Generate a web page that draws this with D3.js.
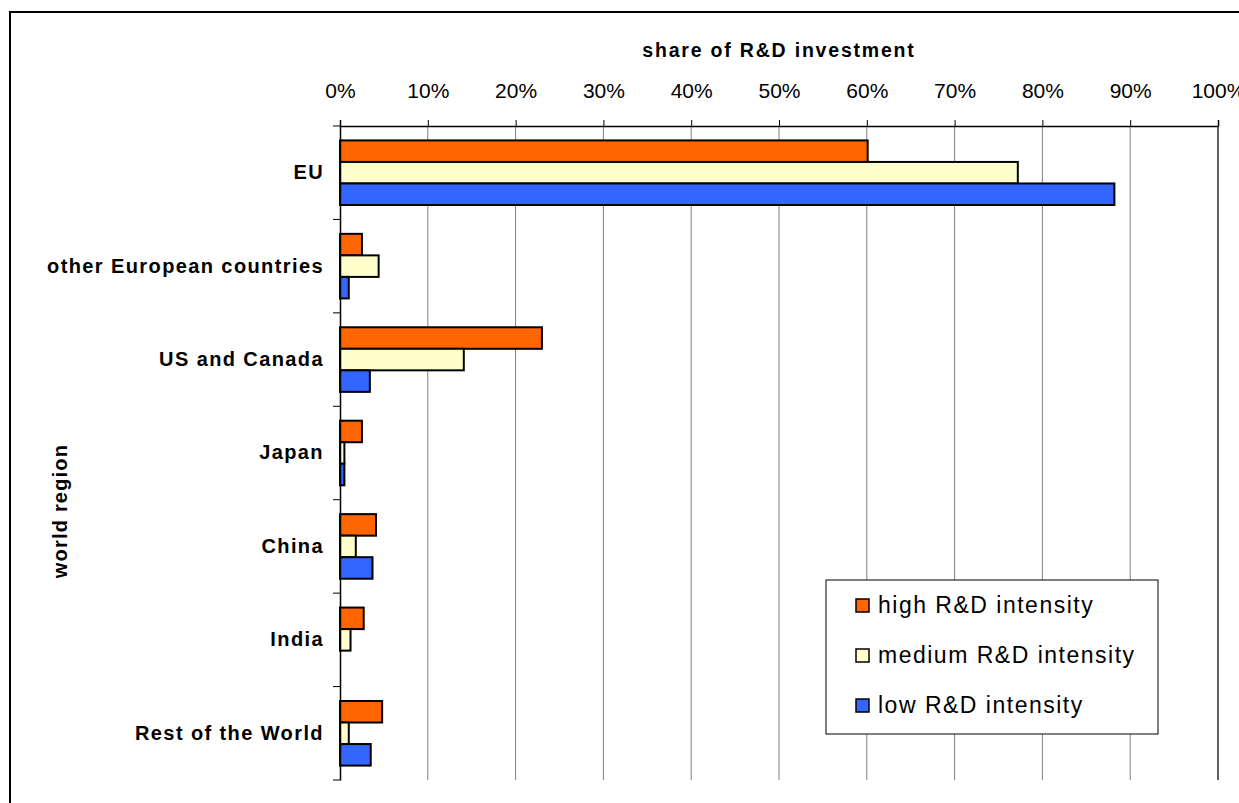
<!DOCTYPE html>
<html>
<head>
<meta charset="utf-8">
<script src="https://cdn.jsdelivr.net/npm/d3@7/dist/d3.min.js"></script>
<style>
  body { margin: 0; background: #fff; }
  svg text { font-family: "Liberation Sans", Arial, sans-serif; fill: #000; }
</style>
</head>
<body>
<svg id="chart" width="1239" height="803"></svg>
<script>
// world regions (top to bottom)
var regions = ["EU", "other European countries", "US and Canada", "Japan", "China", "India", "Rest of the World"];
var series = ["high R&D intensity", "medium R&D intensity", "low R&D intensity"];
var colors = ["#ff6600", "#ffffcc", "#3366ff"];
// share of R&D investment, per region
var highVals   = [0.601, 0.025, 0.230, 0.025, 0.041, 0.027, 0.048];
var mediumVals = [0.772, 0.044, 0.141, 0.005, 0.018, 0.012, 0.010];
var lowVals    = [0.882, 0.010, 0.034, 0.005, 0.037, 0.000, 0.035];
var tickVals = [0, 0.1, 0.2, 0.3, 0.4, 0.5, 0.6, 0.7, 0.8, 0.9, 1];

var svg = d3.select("#chart");

var plotLeft = 340, plotRight = 1218, plotTop = 126, plotBottom = 780;

// outer frame
svg.append("rect")
  .attr("x", 10).attr("y", 12)
  .attr("width", 1260).attr("height", 820)
  .attr("fill", "none").attr("stroke", "#000").attr("stroke-width", 2);

var x = d3.scaleLinear().domain([0, 1]).range([plotLeft, plotRight]);
var y = d3.scaleBand().domain(regions).range([plotTop, plotBottom]);
var yInner = d3.scaleBand().domain(series).range([0, y.bandwidth()]).paddingOuter(0.67);

// gridlines
svg.append("g").selectAll("line")
  .data(tickVals.slice(1))
  .enter().append("line")
  .attr("x1", function(d){ return x(d); })
  .attr("x2", function(d){ return x(d); })
  .attr("y1", plotTop).attr("y2", plotBottom)
  .attr("stroke", "#808080").attr("stroke-width", 1);

// top axis
var xAxis = d3.axisTop(x)
  .tickValues(tickVals)
  .tickFormat(d3.format(".0%"))
  .tickSize(6)
  .tickPadding(22);

var gx = svg.append("g")
  .attr("transform", "translate(0," + plotTop + ")")
  .call(xAxis);
gx.select(".domain").attr("stroke", "#000").attr("stroke-width", 1.5);
gx.selectAll(".tick line").attr("stroke", "#000");
gx.selectAll(".tick text")
  .style("font-size", "21px")
  .style("font-family", "'Liberation Sans', Arial, sans-serif")
  .attr("fill", "#000");
// 100% edge line
svg.append("line")
  .attr("x1", x(1)).attr("x2", x(1))
  .attr("y1", plotTop).attr("y2", plotBottom)
  .attr("stroke", "#404040").attr("stroke-width", 1.5);

svg.append("text")
  .attr("x", (plotLeft + plotRight) / 2)
  .attr("y", 57)
  .attr("text-anchor", "middle")
  .style("font-size", "19.5px")
  .style("font-weight", "bold")
  .style("letter-spacing", "1.8px")
  .text("share of R&D investment");

// bars
var rows = regions.map(function(r, i){
  return { region: r, values: [highVals[i], mediumVals[i], lowVals[i]] };
});

var groups = svg.append("g").selectAll("g")
  .data(rows)
  .enter().append("g")
  .attr("transform", function(d){ return "translate(0," + y(d.region) + ")"; });

groups.selectAll("rect")
  .data(function(d){ return d.values.map(function(v, j){ return { s: series[j], v: v, c: colors[j] }; }); })
  .enter().append("rect")
  .filter(function(d){ return d.v > 0; })
  .attr("x", x(0))
  .attr("y", function(d){ return yInner(d.s); })
  .attr("width", function(d){ return x(d.v) - x(0); })
  .attr("height", yInner.bandwidth())
  .attr("fill", function(d){ return d.c; })
  .attr("stroke", "#000")
  .attr("stroke-width", 2);

// left axis
var yAxis = d3.axisLeft(y).tickSize(0).tickPadding(16);
var gy = svg.append("g")
  .attr("transform", "translate(" + plotLeft + ",0)")
  .call(yAxis);
gy.select(".domain").attr("stroke", "#000").attr("stroke-width", 1.5);
gy.selectAll(".tick text")
  .style("font-size", "20px")
  .style("font-weight", "bold")
  .style("letter-spacing", "1.4px")
  .style("font-family", "'Liberation Sans', Arial, sans-serif")
  .attr("fill", "#000");

// category boundary ticks
var bounds = regions.map(function(r){ return y(r); }).concat([plotBottom]);
svg.append("g").selectAll("line")
  .data(bounds)
  .enter().append("line")
  .attr("x1", plotLeft - 7).attr("x2", plotLeft)
  .attr("y1", function(d){ return d; })
  .attr("y2", function(d){ return d; })
  .attr("stroke", "#000").attr("stroke-width", 1);

svg.append("text")
  .attr("transform", "translate(67," + ((plotTop + plotBottom) / 2 + 58) + ") rotate(-90)")
  .attr("text-anchor", "middle")
  .style("font-size", "20px")
  .style("font-weight", "bold")
  .style("letter-spacing", "1.2px")
  .text("world region");

// legend
var legend = svg.append("g").attr("transform", "translate(826,580)");
legend.append("rect")
  .attr("width", 332).attr("height", 154)
  .attr("fill", "#fff").attr("stroke", "#000").attr("stroke-width", 1);

var items = legend.selectAll("g.item")
  .data(series)
  .enter().append("g")
  .attr("class", "item")
  .attr("transform", function(d, i){ return "translate(0," + (25 + i * 50) + ")"; });

items.append("rect")
  .attr("x", 30).attr("y", -6)
  .attr("width", 13).attr("height", 13)
  .attr("fill", function(d, i){ return colors[i]; })
  .attr("stroke", "#000").attr("stroke-width", 1.5);

items.append("text")
  .attr("x", 52).attr("y", 8)
  .style("font-size", "23px")
  .style("letter-spacing", "1.5px")
  .text(function(d){ return d; });
</script>
</body>
</html>
